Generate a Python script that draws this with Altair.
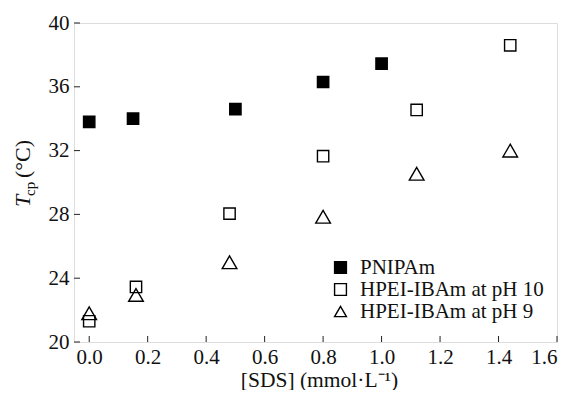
import altair as alt
import pandas as pd

# ---- data ----
series_names = ["PNIPAm", "HPEI-IBAm at pH 10", "HPEI-IBAm at pH 9"]

x_pnipam = [0.0, 0.15, 0.50, 0.80, 1.00]
y_pnipam = [33.8, 34.0, 34.6, 36.3, 37.45]

x_ph10 = [0.0, 0.16, 0.48, 0.80, 1.12, 1.44]
y_ph10 = [21.3, 23.45, 28.05, 31.65, 34.55, 38.6]

x_ph9 = [0.0, 0.16, 0.48, 0.80, 1.12, 1.44]
y_ph9 = [21.8, 22.95, 25.0, 27.85, 30.55, 32.0]

x_ticks = [0.0, 0.2, 0.4, 0.6, 0.8, 1.0, 1.2, 1.4, 1.6]
y_ticks = [20, 24, 28, 32, 36, 40]

FONT = "Liberation Serif"
W, H = 483, 319

rows = []
for name, xs, ys in [(series_names[0], x_pnipam, y_pnipam),
                     (series_names[1], x_ph10, y_ph10),
                     (series_names[2], x_ph9, y_ph9)]:
    for xv, yv in zip(xs, ys):
        rows.append({"series": name, "sds": xv, "tcp": yv})
df = pd.DataFrame(rows)

xscale = alt.Scale(domain=[-0.052, 1.6], nice=False, zero=False)
yscale = alt.Scale(domain=[20, 40], nice=False, zero=False)

legend = alt.Legend(title=None, orient="none", legendX=256, legendY=234,
                    labelFont=FONT, labelFontSize=21, labelColor="#111", labelLimit=0,
                    symbolSize=140, symbolStrokeWidth=1.4,
                    rowPadding=0, labelOffset=9, padding=0)

xaxis = alt.Axis(values=x_ticks, format=".1f", ticks=False, domain=False,
                 grid=False, labelFont=FONT, labelFontSize=21, labelColor="#111",
                 labelPadding=4,
                 title="[SDS] (mmol·L⁻¹)", titleFont=FONT, titleFontSize=21.5,
                 titleFontWeight="normal", titleColor="#111",
                 titleX=245, titleY=44, titleBaseline="alphabetic")
yaxis = alt.Axis(values=y_ticks, format="d", ticks=False, domain=False,
                 grid=False, labelFont=FONT, labelFontSize=21, labelColor="#111",
                 labelPadding=5, title=None)

base = alt.Chart(df).encode(
    x=alt.X("sds:Q", scale=xscale, axis=xaxis),
    y=alt.Y("tcp:Q", scale=yscale, axis=yaxis),
    shape=alt.Shape("series:N",
                    scale=alt.Scale(domain=series_names,
                                    range=["square", "square", "triangle-up"]),
                    legend=legend),
    fill=alt.Fill("series:N",
                  scale=alt.Scale(domain=series_names,
                                  range=["black", "transparent", "transparent"]),
                  legend=legend),
    stroke=alt.value("black"),
)

squares = base.mark_point(size=128, strokeWidth=1.4, opacity=1).transform_filter(
    alt.FieldOneOfPredicate(field="series", oneOf=series_names[:2]))
triangles = base.mark_point(size=215, strokeWidth=1.4, opacity=1).transform_filter(
    alt.FieldEqualPredicate(field="series", equal=series_names[2]))

xt = alt.Chart(pd.DataFrame({"v": x_ticks})).mark_rule(color="#222", strokeWidth=1).encode(
    x=alt.X("v:Q", scale=xscale), y=alt.value(H), y2=alt.value(H - 6))
yt = alt.Chart(pd.DataFrame({"v": y_ticks})).mark_rule(color="#222", strokeWidth=1).encode(
    y=alt.Y("v:Q", scale=yscale), x=alt.value(0), x2=alt.value(6))

tdf = pd.DataFrame({"t": ["T"]})
t_main = alt.Chart(tdf).mark_text(font=FONT, fontSize=22, fontStyle="italic", angle=270,
                                  align="left", baseline="alphabetic", color="#111").encode(
    text="t:N", x=alt.value(-44), y=alt.value(184))
cdf = pd.DataFrame({"t": ["cp"]})
t_sub = alt.Chart(cdf).mark_text(font=FONT, fontSize=15, angle=270,
                                 align="left", baseline="alphabetic", color="#111").encode(
    text="t:N", x=alt.value(-39), y=alt.value(173))
udf = pd.DataFrame({"t": ["(°C)"]})
t_unit = alt.Chart(udf).mark_text(font=FONT, fontSize=22, angle=270,
                                  align="left", baseline="alphabetic", color="#111").encode(
    text="t:N", x=alt.value(-44), y=alt.value(155))

chart = alt.layer(xt, yt, squares, triangles, t_main, t_sub, t_unit).properties(
    width=W, height=H,
    autosize=alt.AutoSizeParams(type="none"),
    padding={"left": 66, "top": 15, "right": 6, "bottom": 48},
).configure_view(stroke="#222", strokeWidth=1.2).configure(background="white")

chart.save("out.html", embed_options={"renderer": "svg", "actions": False})
